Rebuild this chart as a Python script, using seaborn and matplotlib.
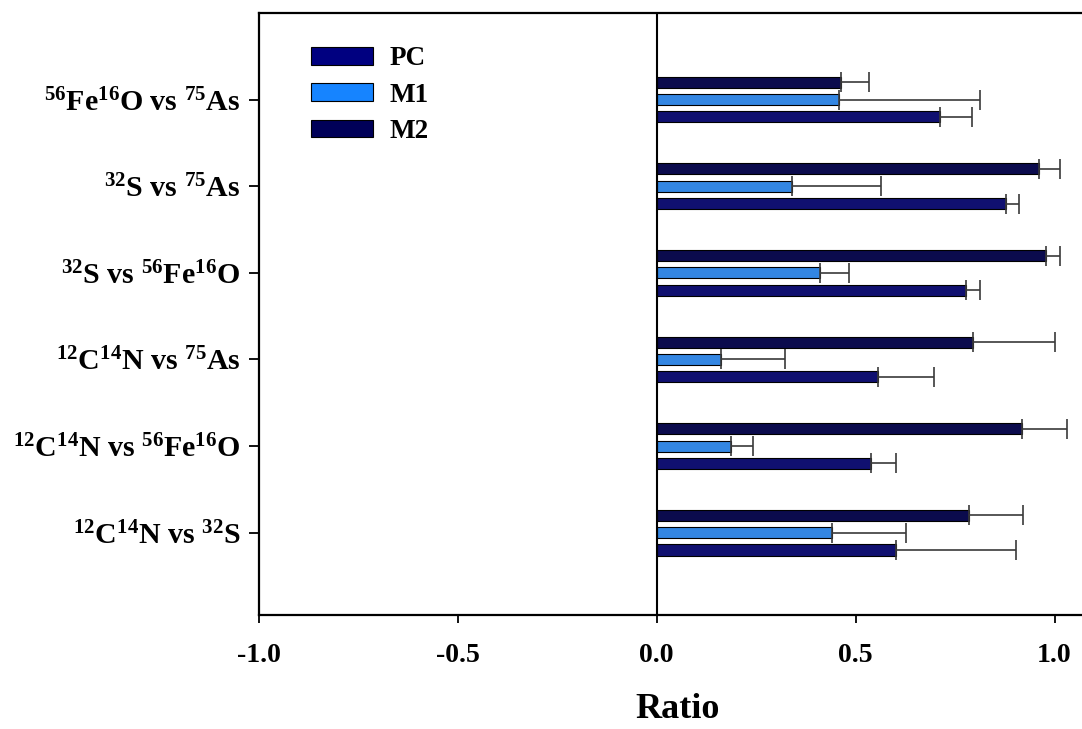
import numpy as np
import pandas as pd
import matplotlib
matplotlib.use("Agg")
import matplotlib.pyplot as plt
import seaborn as sns
from matplotlib.patches import Patch

categories = [r"$^{56}$Fe$^{16}$O vs $^{75}$As",
              r"$^{32}$S vs $^{75}$As",
              r"$^{32}$S vs $^{56}$Fe$^{16}$O",
              r"$^{12}$C$^{14}$N vs $^{75}$As",
              r"$^{12}$C$^{14}$N vs $^{56}$Fe$^{16}$O",
              r"$^{12}$C$^{14}$N vs $^{32}$S"]
groups = ["PC", "M1", "M2"]
pc_vals = [0.713, 0.879, 0.778, 0.556, 0.539, 0.602]
pc_err = [0.080, 0.031, 0.036, 0.141, 0.064, 0.302]
m1_vals = [0.458, 0.341, 0.412, 0.163, 0.188, 0.441]
m1_err = [0.355, 0.224, 0.071, 0.159, 0.054, 0.186]
m2_vals = [0.464, 0.960, 0.979, 0.795, 0.919, 0.785]
m2_err = [0.071, 0.053, 0.035, 0.205, 0.112, 0.135]
xticks = [-1.0, -0.5, 0.0, 0.5, 1.0]

colors = {"PC": "#000080", "M1": "#1684FF", "M2": "#000058"}

vals = {"PC": pc_vals, "M1": m1_vals, "M2": m2_vals}
errs = {"PC": pc_err, "M1": m1_err, "M2": m2_err}
rows = []
for g in groups:
    for c, v, e in zip(categories, vals[g], errs[g]):
        rows.append({"cat": c, "group": g, "value": v, "err": e})
df = pd.DataFrame(rows)

sns.set_style("ticks")
plt.rcParams["font.family"] = ["Liberation Serif", "DejaVu Serif"]
plt.rcParams["font.weight"] = "bold"
plt.rcParams["mathtext.fontset"] = "custom"
plt.rcParams["mathtext.bf"] = "Liberation Serif:bold"
plt.rcParams["mathtext.rm"] = "Liberation Serif:bold"
plt.rcParams["mathtext.default"] = "bf"
for k in ["text.color", "axes.labelcolor", "xtick.color", "ytick.color", "axes.edgecolor"]:
    plt.rcParams[k] = "black"

fig = plt.figure(figsize=(10.82, 7.29), dpi=100)
ax = fig.add_axes([258.5 / 1082, (729 - 615) / 729, 1 - 258.5 / 1082, (615 - 13) / 729])

draw_order = ["M2", "M1", "PC"]
sns.barplot(data=df, y="cat", x="value", hue="group", hue_order=draw_order,
            order=categories, orient="h", palette=colors, width=0.6, gap=0.36,
            edgecolor="black", linewidth=0.8, errorbar=None, ax=ax, legend=False)

for g, cont in zip(draw_order, ax.containers):
    ys = [p.get_y() + p.get_height() / 2 for p in cont]
    xs = [p.get_width() for p in cont]
    e = errs[g]
    ax.errorbar(xs, ys, xerr=[np.zeros(len(e)), e], fmt="none",
                ecolor="#3a3a3a", elinewidth=1.2, capsize=7, capthick=1.2, zorder=1)

ax.axvline(0, color="black", lw=1.5, zorder=3)
ax.set_xlim(-1.0, -1.0 + (1082 - 258.5) / 398)
ax.set_ylim(5.95, -1.0)
ax.set_xticks(xticks)
ax.set_xticklabels([f"{t:.1f}" for t in xticks], fontsize=20, fontweight="bold")
ax.tick_params(axis="y", labelsize=21.5, length=7, width=1.3, pad=6)
ax.tick_params(axis="x", length=6, width=1.3, pad=14)
ax.set_ylabel("")
ax.set_xlabel("Ratio", fontsize=26, fontweight="bold")
ax.xaxis.set_label_coords((678 - 258.5) / (1082 - 258.5), -0.13)
for s in ["left", "bottom", "top"]:
    ax.spines[s].set_linewidth(1.6)
ax.spines["right"].set_visible(False)

handles = [Patch(facecolor=colors[g], edgecolor="black", linewidth=0.8) for g in groups]
leg = ax.legend(handles, groups, loc="upper left", bbox_to_anchor=(0.034, 0.985),
                frameon=False, fontsize=19.5, handlelength=2.3, handleheight=0.62,
                labelspacing=0.42, handletextpad=0.6)
for t in leg.get_texts():
    t.set_fontweight("bold")

fig.savefig("out.png", dpi=100)
